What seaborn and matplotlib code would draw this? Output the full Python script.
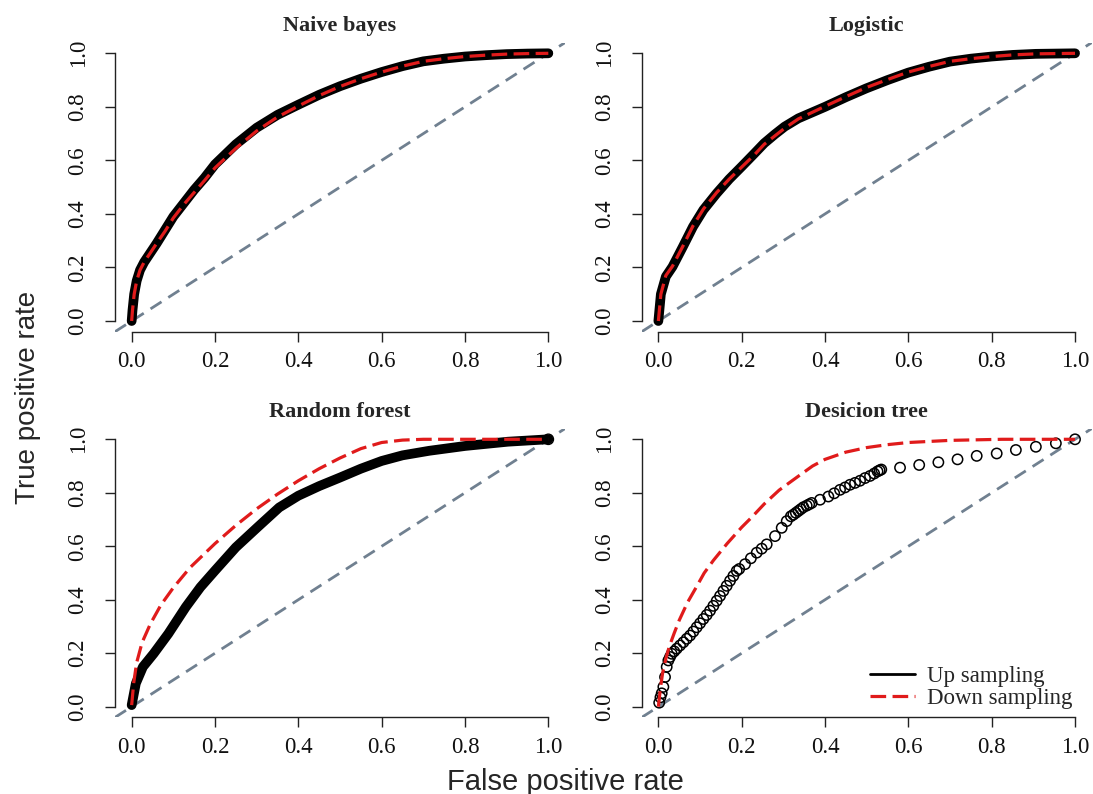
import numpy as np
import pandas as pd
import seaborn as sns
import matplotlib
matplotlib.use("Agg")
import matplotlib.pyplot as plt
from matplotlib.lines import Line2D

# ROC points (false positive rate, true positive rate)
nb_up_fpr = [0, 0.002, 0.006, 0.012, 0.02, 0.03, 0.045, 0.06, 0.08, 0.1, 0.125, 0.15, 0.175,
             0.2, 0.25, 0.3, 0.35, 0.4, 0.45, 0.5, 0.55, 0.6, 0.65, 0.7, 0.75, 0.8, 0.85,
             0.9, 0.95, 1.0]
nb_up_tpr = [0, 0.04, 0.10, 0.15, 0.19, 0.22, 0.255, 0.29, 0.34, 0.39, 0.44, 0.49, 0.535,
             0.585, 0.66, 0.722, 0.77, 0.808, 0.845, 0.877, 0.905, 0.93, 0.952, 0.97, 0.98,
             0.988, 0.993, 0.997, 0.999, 1.0]
nb_down_fpr = nb_up_fpr
nb_down_tpr = [0, 0.04, 0.10, 0.15, 0.19, 0.22, 0.255, 0.29, 0.335, 0.385, 0.435, 0.48, 0.525,
               0.572, 0.645, 0.71, 0.762, 0.803, 0.842, 0.876, 0.905, 0.93, 0.952, 0.97, 0.98,
               0.988, 0.993, 0.997, 0.999, 1.0]

lr_up_fpr = [0, 0.006, 0.018, 0.034, 0.059, 0.083, 0.108, 0.14, 0.17, 0.2, 0.23, 0.254, 0.28,
             0.303, 0.336, 0.4, 0.45, 0.499, 0.55, 0.6, 0.65, 0.7, 0.75, 0.8, 0.85, 0.906, 1.0]
lr_up_tpr = [0, 0.10, 0.166, 0.203, 0.278, 0.352, 0.415, 0.477, 0.53, 0.577, 0.625, 0.664, 0.698,
             0.726, 0.757, 0.80, 0.836, 0.869, 0.90, 0.928, 0.95, 0.969, 0.98, 0.988, 0.994,
             0.998, 1.0]
lr_down_fpr = lr_up_fpr
lr_down_tpr = [0, 0.10, 0.17, 0.205, 0.28, 0.355, 0.418, 0.48, 0.53, 0.575, 0.62, 0.66, 0.692,
               0.72, 0.755, 0.802, 0.838, 0.872, 0.902, 0.93, 0.951, 0.97, 0.98, 0.988, 0.994,
               0.998, 1.0]

rf_up_fpr = [0, 0.01, 0.027, 0.053, 0.088, 0.13, 0.165, 0.2, 0.25, 0.302, 0.354, 0.40, 0.45,
             0.50, 0.55, 0.60, 0.65, 0.714, 0.80, 0.903, 1.0]
rf_up_tpr = [0.006, 0.087, 0.149, 0.199, 0.273, 0.373, 0.447, 0.509, 0.596, 0.671, 0.745, 0.789,
             0.825, 0.857, 0.89, 0.919, 0.94, 0.957, 0.975, 0.991, 1.0]
rf_down_fpr = [0, 0.005, 0.012, 0.025, 0.045, 0.07, 0.1, 0.14, 0.2, 0.25, 0.3, 0.35, 0.4, 0.45,
               0.5, 0.55, 0.6, 0.65, 0.7, 0.8, 1.0]
rf_down_tpr = [0.006, 0.09, 0.165, 0.24, 0.31, 0.38, 0.445, 0.52, 0.61, 0.678, 0.74, 0.795, 0.845,
               0.89, 0.93, 0.965, 0.988, 0.997, 1.0, 1.0, 1.0]

dt_up_fpr = [0.002, 0.005, 0.008, 0.012, 0.016, 0.020, 0.024, 0.028, 0.032, 0.038, 0.044, 0.052,
             0.060, 0.068, 0.076, 0.084, 0.092, 0.100, 0.108, 0.116, 0.124, 0.132, 0.140, 0.148,
             0.156, 0.164, 0.172, 0.180, 0.188, 0.194, 0.208, 0.222, 0.236, 0.248, 0.260, 0.280,
             0.296, 0.308, 0.318, 0.324, 0.330, 0.336, 0.342, 0.348, 0.356, 0.362, 0.368, 0.388,
             0.408, 0.422, 0.436, 0.448, 0.460, 0.472, 0.484, 0.496, 0.508, 0.518, 0.526, 0.531,
             0.535, 0.580, 0.626, 0.672, 0.718, 0.764, 0.812, 0.858, 0.906, 0.954, 1.000]
dt_up_tpr = [0.015, 0.035, 0.050, 0.074, 0.111, 0.149, 0.173, 0.186, 0.198, 0.207, 0.217, 0.229,
             0.241, 0.254, 0.266, 0.281, 0.297, 0.312, 0.328, 0.343, 0.359, 0.377, 0.396, 0.414,
             0.433, 0.452, 0.471, 0.489, 0.508, 0.515, 0.533, 0.555, 0.576, 0.591, 0.607, 0.638,
             0.669, 0.694, 0.712, 0.718, 0.725, 0.732, 0.739, 0.746, 0.752, 0.757, 0.762, 0.774,
             0.786, 0.798, 0.811, 0.820, 0.830, 0.837, 0.845, 0.855, 0.863, 0.872, 0.880, 0.884,
             0.887, 0.894, 0.904, 0.914, 0.925, 0.938, 0.947, 0.960, 0.972, 0.985, 1.000]
dt_down_fpr = [0, 0.005, 0.01, 0.018, 0.026, 0.038, 0.05, 0.07, 0.091, 0.11, 0.132, 0.165, 0.2,
               0.225, 0.254, 0.29, 0.336, 0.37, 0.4, 0.45, 0.5, 0.55, 0.6, 0.7, 0.825, 1.0]
dt_down_tpr = [0, 0.07, 0.124, 0.18, 0.224, 0.275, 0.323, 0.39, 0.447, 0.5, 0.547, 0.61, 0.671,
               0.71, 0.758, 0.81, 0.862, 0.9, 0.925, 0.952, 0.969, 0.98, 0.988, 0.996, 1.0, 1.0]

titles = ["Naive bayes", "Logistic", "Random forest", "Desicion tree"]
ticks = [0.0, 0.2, 0.4, 0.6, 0.8, 1.0]
tick_labels = ["0.0", "0.2", "0.4", "0.6", "0.8", "1.0"]

RED = "#e01b1b"
GRAY = "#708090"
SERIF = "Liberation Serif"
SANS = "Liberation Sans"

sns.set_style("ticks")
plt.rcParams["font.family"] = [SERIF, "DejaVu Serif"]

fig = plt.figure(figsize=(10.93, 7.94), dpi=100)
W, H = 1093, 794
boxes = [(115, 42.6, 565, 331.7), (641.7, 42.6, 1091.7, 331.7),
         (115, 428.6, 565, 717.4), (641.7, 428.6, 1091.7, 717.4)]
axes = []
for x0, y0, x1, y1 in boxes:
    axes.append(fig.add_axes([x0 / W, 1 - y1 / H, (x1 - x0) / W, (y1 - y0) / H]))


def style_axis(ax, title):
    ax.set_xlim(-0.04, 1.04)
    ax.set_ylim(-0.04, 1.04)
    for side in ["top", "right"]:
        ax.spines[side].set_visible(False)
    for side in ["left", "bottom"]:
        ax.spines[side].set_bounds(0, 1)
        ax.spines[side].set_linewidth(1.0)
        ax.spines[side].set_color("#222222")
    ax.set_xticks(ticks)
    ax.set_yticks(ticks)
    ax.set_xticklabels(tick_labels, fontsize=16.5, color="#111111")
    ax.set_yticklabels(tick_labels, fontsize=16.5, color="#111111", rotation=90, va="center")
    ax.tick_params(axis="both", direction="out", length=7, width=1, color="#222222")
    ax.tick_params(axis="x", pad=7)
    ax.tick_params(axis="y", pad=12)
    ax.set_xlabel("")
    ax.set_ylabel("")
    ax.set_title(title, fontsize=16, fontweight="bold", pad=8.5)
    # chance line
    ax.axline((0, 0), (1, 1), color=GRAY, lw=2.0, linestyle=(0, (4.7, 2.9)), zorder=1)


def thick_curve(ax, fpr, tpr):
    sns.lineplot(x=fpr, y=tpr, ax=ax, color="black", lw=7, sort=False, estimator=None,
                 errorbar=None, solid_capstyle="round", solid_joinstyle="round", zorder=3)


def dashed_curve(ax, fpr, tpr):
    sns.lineplot(x=fpr, y=tpr, ax=ax, color=RED, lw=2.3, sort=False, estimator=None,
                 errorbar=None, linestyle=(0, (4.9, 2.0)), zorder=4)


thick_curve(axes[0], nb_up_fpr, nb_up_tpr)
dashed_curve(axes[0], nb_down_fpr, nb_down_tpr)

thick_curve(axes[1], lr_up_fpr, lr_up_tpr)
dashed_curve(axes[1], lr_down_fpr, lr_down_tpr)

thick_curve(axes[2], rf_up_fpr, rf_up_tpr)
sns.scatterplot(x=rf_up_fpr[-1:], y=rf_up_tpr[-1:], ax=axes[2], s=55, marker="o",
                facecolor="none", edgecolor="black", linewidth=1, zorder=5)
dashed_curve(axes[2], rf_down_fpr, rf_down_tpr)

sns.scatterplot(x=dt_up_fpr, y=dt_up_tpr, ax=axes[3], s=55, marker="o",
                facecolor="none", edgecolor="black", linewidth=1.1, zorder=3)
dashed_curve(axes[3], dt_down_fpr, dt_down_tpr)

for ax, t in zip(axes, titles):
    style_axis(ax, t)

handles = [Line2D([], [], color="black", lw=2.0),
           Line2D([], [], color=RED, lw=2.3, linestyle=(0, (4.9, 2.0)))]
axes[3].legend(handles, ["Up sampling", "Down sampling"], loc="lower right",
               bbox_to_anchor=(0.958, 0.03), frameon=False, fontsize=16.5,
               handlelength=1.95, handletextpad=0.55, labelspacing=0.05,
               borderpad=0, borderaxespad=0)

fig.text(28 / W, 0.5, "True positive rate", rotation=90, ha="center", va="center",
         fontsize=20, family=[SANS, "DejaVu Sans"])
fig.text(565 / W, 1 - 790 / H, "False positive rate", ha="center", va="baseline",
         fontsize=21, family=[SANS, "DejaVu Sans"])

fig.savefig("out.png", dpi=100)
